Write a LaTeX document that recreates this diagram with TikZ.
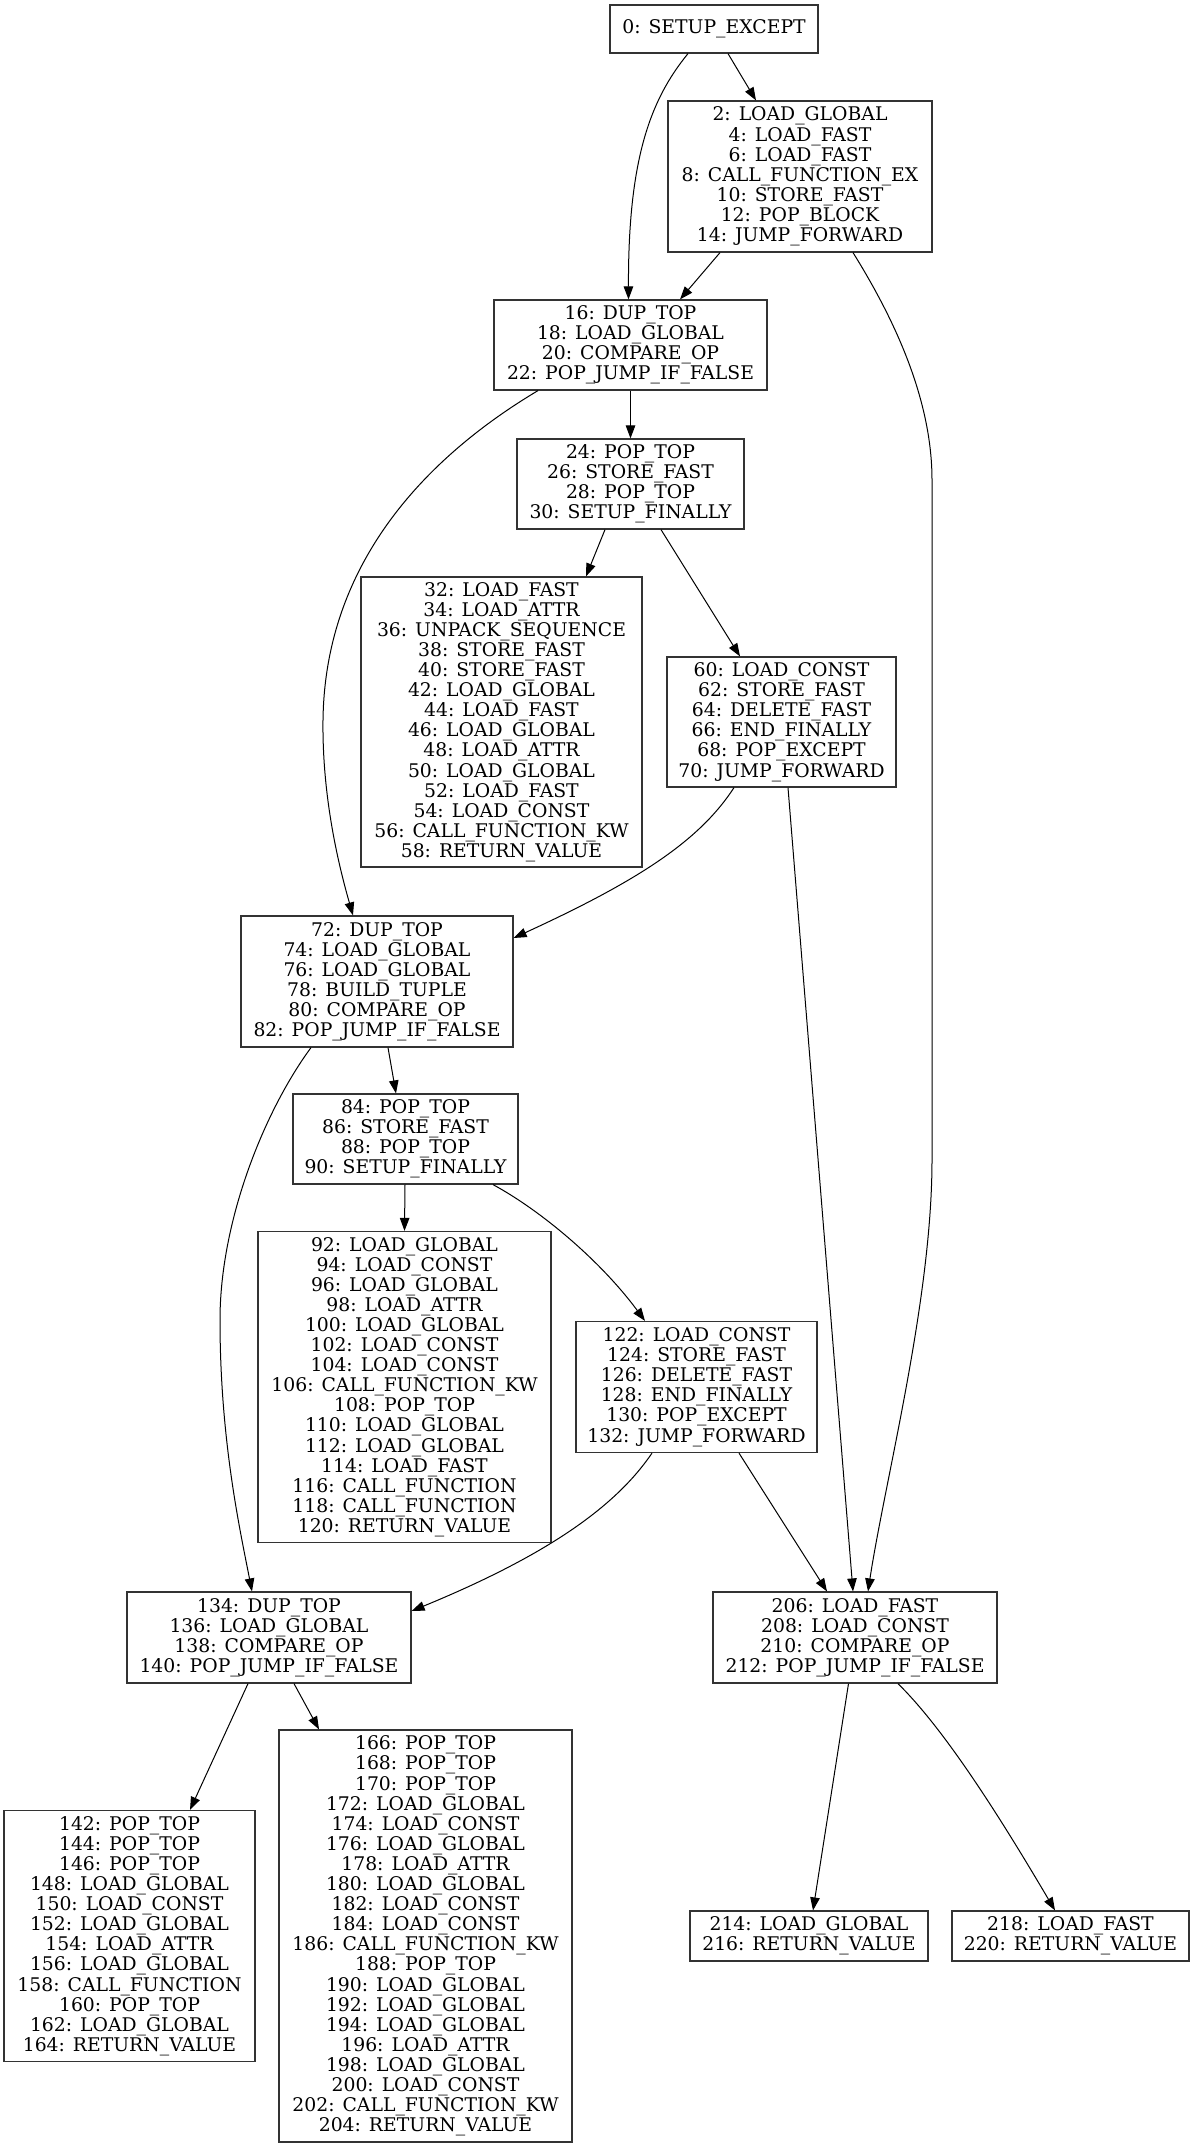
\documentclass[tikz,border=0pt]{standalone}
\usepackage{fontspec}
\setmainfont{DejaVu Serif}
\usetikzlibrary{arrows.meta,calc}
\newcommand\gvboxfont{\fontsize{18.8}{20.1}\selectfont}
\tikzset{
  nbox/.style={draw=black!80, line width=1.2pt, inner sep=0pt, align=center, font=\gvboxfont, anchor=center},
  earrow/.style={-{Triangle[length=13pt,width=9.5pt]}, line width=1pt, black}
}
\begin{document}
\begin{tikzpicture}[x=1pt,y=-1pt]
\useasboundingbox[fill=white] (0,0) rectangle (1195,2147);

\node[nbox, minimum width=208, minimum height=48] (n0) at (714,29) {0: SETUP\_EXCEPT};
\node[nbox, minimum width=264, minimum height=151] (n2) at (800,176.5) {2: LOAD\_GLOBAL\\4: LOAD\_FAST\\6: LOAD\_FAST\\8: CALL\_FUNCTION\_EX\\10: STORE\_FAST\\12: POP\_BLOCK\\14: JUMP\_FORWARD};
\node[nbox, minimum width=273, minimum height=90] (n16) at (630.5,345) {16: DUP\_TOP\\18: LOAD\_GLOBAL\\20: COMPARE\_OP\\22: POP\_JUMP\_IF\_FALSE};
\node[nbox, minimum width=227, minimum height=90] (n24) at (630.5,484) {24: POP\_TOP\\26: STORE\_FAST\\28: POP\_TOP\\30: SETUP\_FINALLY};
\node[nbox, minimum width=281, minimum height=290] (n32) at (501.5,722) {32: LOAD\_FAST\\34: LOAD\_ATTR\\36: UNPACK\_SEQUENCE\\38: STORE\_FAST\\40: STORE\_FAST\\42: LOAD\_GLOBAL\\44: LOAD\_FAST\\46: LOAD\_GLOBAL\\48: LOAD\_ATTR\\50: LOAD\_GLOBAL\\52: LOAD\_FAST\\54: LOAD\_CONST\\56: CALL\_FUNCTION\_KW\\58: RETURN\_VALUE};
\node[nbox, minimum width=229, minimum height=130] (n60) at (781.5,722) {60: LOAD\_CONST\\62: STORE\_FAST\\64: DELETE\_FAST\\66: END\_FINALLY\\68: POP\_EXCEPT\\70: JUMP\_FORWARD};
\node[nbox, minimum width=272, minimum height=131] (n72) at (377,981.5) {72: DUP\_TOP\\74: LOAD\_GLOBAL\\76: LOAD\_GLOBAL\\78: BUILD\_TUPLE\\80: COMPARE\_OP\\82: POP\_JUMP\_IF\_FALSE};
\node[nbox, minimum width=225, minimum height=90] (n84) at (405.5,1139) {84: POP\_TOP\\86: STORE\_FAST\\88: POP\_TOP\\90: SETUP\_FINALLY};
\node[nbox, minimum width=293, minimum height=311] (n92) at (404.5,1387) {92: LOAD\_GLOBAL\\94: LOAD\_CONST\\96: LOAD\_GLOBAL\\98: LOAD\_ATTR\\100: LOAD\_GLOBAL\\102: LOAD\_CONST\\104: LOAD\_CONST\\106: CALL\_FUNCTION\_KW\\108: POP\_TOP\\110: LOAD\_GLOBAL\\112: LOAD\_GLOBAL\\114: LOAD\_FAST\\116: CALL\_FUNCTION\\118: CALL\_FUNCTION\\120: RETURN\_VALUE};
\node[nbox, minimum width=241, minimum height=131] (n122) at (696.5,1387) {122: LOAD\_CONST\\124: STORE\_FAST\\126: DELETE\_FAST\\128: END\_FINALLY\\130: POP\_EXCEPT\\132: JUMP\_FORWARD};
\node[nbox, minimum width=284, minimum height=91] (n134) at (269,1637.5) {134: DUP\_TOP\\136: LOAD\_GLOBAL\\138: COMPARE\_OP\\140: POP\_JUMP\_IF\_FALSE};
\node[nbox, minimum width=284, minimum height=91] (n206) at (855,1637.5) {206: LOAD\_FAST\\208: LOAD\_CONST\\210: COMPARE\_OP\\212: POP\_JUMP\_IF\_FALSE};
\node[nbox, minimum width=251, minimum height=251] (n142) at (129.5,1936) {142: POP\_TOP\\144: POP\_TOP\\146: POP\_TOP\\148: LOAD\_GLOBAL\\150: LOAD\_CONST\\152: LOAD\_GLOBAL\\154: LOAD\_ATTR\\156: LOAD\_GLOBAL\\158: CALL\_FUNCTION\\160: POP\_TOP\\162: LOAD\_GLOBAL\\164: RETURN\_VALUE};
\node[nbox, minimum width=293, minimum height=412] (n166) at (425.5,1936) {166: POP\_TOP\\168: POP\_TOP\\170: POP\_TOP\\172: LOAD\_GLOBAL\\174: LOAD\_CONST\\176: LOAD\_GLOBAL\\178: LOAD\_ATTR\\180: LOAD\_GLOBAL\\182: LOAD\_CONST\\184: LOAD\_CONST\\186: CALL\_FUNCTION\_KW\\188: POP\_TOP\\190: LOAD\_GLOBAL\\192: LOAD\_GLOBAL\\194: LOAD\_GLOBAL\\196: LOAD\_ATTR\\198: LOAD\_GLOBAL\\200: LOAD\_CONST\\202: CALL\_FUNCTION\_KW\\204: RETURN\_VALUE};
\node[nbox, minimum width=238, minimum height=50] (n214) at (809,1936) {214: LOAD\_GLOBAL\\216: RETURN\_VALUE};
\node[nbox, minimum width=237, minimum height=50] (n218) at (1070.5,1936) {218: LOAD\_FAST\\220: RETURN\_VALUE};

% edges
\draw[earrow] ($(n0.south)+(-26,0)$) .. controls (650,100) and (628,160) .. ($(n16.north)+(-2,0)$);
\draw[earrow] ($(n0.south)+(14,0)$) -- ($(n2.north)+(-44,0)$);
\draw[earrow] ($(n2.south)+(-80,0)$) -- ($(n16.north)+(49.5,0)$);
\draw[earrow] ($(n2.south)+(53,0)$) .. controls (895,320) and (932,400) .. (932,480) -- (932,1160) .. controls (932,1300) and (885,1480) .. ($(n206.north)+(13,0)$);
\draw[earrow] (n16.south) -- (n24.north);
\draw[earrow] ($(n16.south)+(-92.5,0)$) .. controls (430,455) and (325,560) .. (323,720) .. controls (322,800) and (340,870) .. ($(n72.north)+(-24,0)$);
\draw[earrow] ($(n24.south)+(-25.5,0)$) -- ($(n32.north)+(84.5,0)$);
\draw[earrow] ($(n24.south)+(30.5,0)$) -- ($(n60.north)+(-41.5,0)$);
\draw[earrow] ($(n60.south)+(-47.5,0)$) .. controls (700,840) and (640,880) .. ($(n72.east)+(0,-43.5)$);
\draw[earrow] ($(n60.south)+(6.5,0)$) -- ($(n206.north)+(-2,0)$);
\draw[earrow] ($(n72.south)+(11,0)$) -- ($(n84.north)+(-9.5,0)$);
\draw[earrow] ($(n72.south)+(-66,0)$) .. controls (265,1110) and (220,1220) .. (220,1320) .. controls (220,1440) and (240,1530) .. ($(n134.north)+(-17,0)$);
\draw[earrow] ($(n84.south)+(-0.5,0)$) -- (n92.north);
\draw[earrow] ($(n84.south)+(87.5,0)$) .. controls (540,1210) and (600,1260) .. ($(n122.north)+(-51.5,0)$);
\draw[earrow] ($(n122.south)+(-44.5,0)$) .. controls (620,1500) and (560,1550) .. ($(n134.east)+(0,-26.5)$);
\draw[earrow] ($(n122.south)+(42.5,0)$) -- ($(n206.north)+(-28,0)$);
\draw[earrow] ($(n134.south)+(-21,0)$) -- ($(n142.north)+(60.5,0)$);
\draw[earrow] ($(n134.south)+(25,0)$) -- ($(n166.north)+(-106.5,0)$);
\draw[earrow] ($(n206.south)+(-6.5,0)$) -- ($(n214.north)+(4,0)$);
\draw[earrow] ($(n206.south)+(43,0)$) .. controls (940,1725) and (990,1800) .. ($(n218.north)+(-15.5,0)$);
\end{tikzpicture}
\end{document}
